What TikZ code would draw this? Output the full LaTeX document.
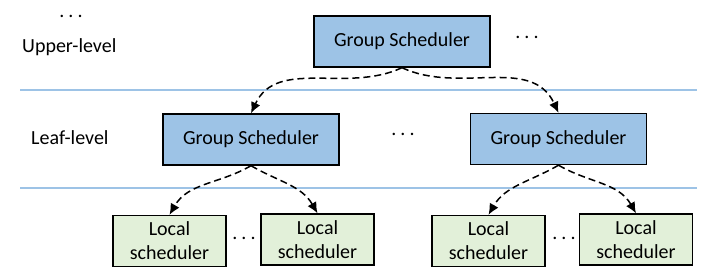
\documentclass[tikz,border=0pt]{standalone}
\usepackage{fontspec}
\setmainfont{Carlito}
\usetikzlibrary{arrows.meta}
\definecolor{gblue}{HTML}{9DC3E6}
\definecolor{lgreen}{HTML}{E2F0D9}
\definecolor{sepblue}{HTML}{9DC3E6}
\tikzset{
  gsched/.style={draw=black, line width=1.4pt, fill=gblue, minimum width=176pt, minimum height=51pt, inner sep=0pt, font=\fontsize{20}{22}\selectfont},
  lsched/.style={draw=black, line width=1.4pt, fill=lgreen, minimum width=113pt, minimum height=51pt, inner sep=0pt, align=center, font=\fontsize{20}{24}\selectfont},
  lbl/.style={font=\fontsize{20}{22}\selectfont, inner sep=0pt},
  sep/.style={draw=sepblue, line width=1.2pt},
  conn/.style={draw=black, line width=1.5pt, dash pattern=on 7pt off 4pt, -{Latex[length=11pt,width=10pt]}}
}
\newcommand{\mydots}{.\kern4pt.\kern4pt.}
\begin{document}
\begin{tikzpicture}[x=1pt,y=-1pt]
\useasboundingbox (0,0) rectangle (720,273);
% separators
\coordinate (s1a) at (20,90); \coordinate (s1b) at (697,90);
\coordinate (s2a) at (20,188); \coordinate (s2b) at (697,188);
\draw[sep] (s1a) -- (s1b);
\draw[sep] (s2a) -- (s2b);
% labels
\node[lbl] (d0) at (71,16) {\mydots};
\node[lbl, anchor=west] (ul) at (22,47) {Upper-level};
\node[lbl, anchor=west] (ll) at (31,138) {Leaf-level};
% nodes
\node[gsched] (top) at (402,41.5) {Group Scheduler};
\node[lbl] (d1) at (527,37) {\mydots};
\node[gsched] (gl) at (251,139.5) {Group Scheduler};
\node[gsched] (gr) at (558.5,139) {Group Scheduler};
\node[lbl] (d2) at (403,134) {\mydots};
\node[lsched] (l1) at (169.5,241) {Local\\scheduler};
\node[lsched] (l2) at (317.5,239.5) {Local\\scheduler};
\node[lsched] (l3) at (488.5,241) {Local\\scheduler};
\node[lsched] (l4) at (636,239.5) {Local\\scheduler};
\node[lbl] (d3) at (244,238) {\mydots};
\node[lbl] (d4) at (564,238) {\mydots};
% connectors
\draw[conn] (top.south) to[out=205,in=65] (gl.north);
\draw[conn] (top.south) to[out=-25,in=115] (gr.north);
\draw[conn] (gl.south) to[out=210,in=60] (l1.north);
\draw[conn] (gl.south) to[out=-30,in=120] (l2.north);
\draw[conn] (gr.south) to[out=210,in=60] (l3.north);
\draw[conn] (gr.south) to[out=-30,in=120] (l4.north);
\end{tikzpicture}
\end{document}
